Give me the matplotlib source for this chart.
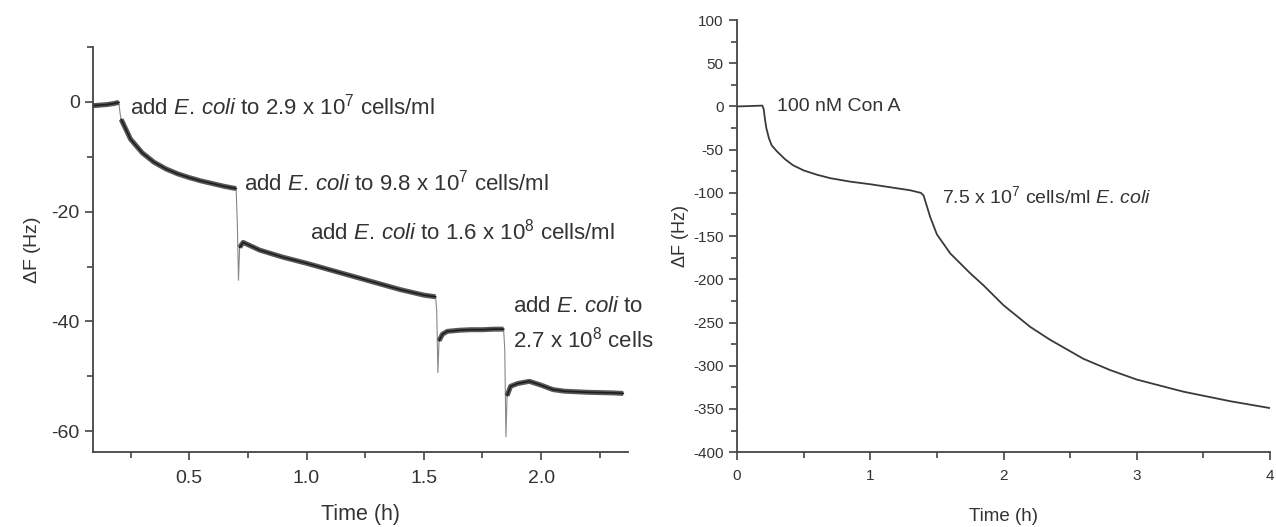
import numpy as np
import matplotlib
matplotlib.use("Agg")
import matplotlib.pyplot as plt
from matplotlib.ticker import MultipleLocator

plt.rcParams['font.family'] = ['Liberation Sans', 'DejaVu Sans']
plt.rcParams['mathtext.fontset'] = 'custom'
plt.rcParams['mathtext.rm'] = 'Liberation Sans'
plt.rcParams['mathtext.it'] = 'Liberation Sans:italic'
plt.rcParams['axes.unicode_minus'] = False

# Left panel: stepwise E. coli additions
seg1_t = [0.09, 0.12, 0.15, 0.18, 0.20]
seg1_f = [-0.7, -0.6, -0.5, -0.3, -0.1]
seg2_t = [0.21, 0.25, 0.30, 0.35, 0.40, 0.45, 0.50, 0.55, 0.60, 0.65, 0.70]
seg2_f = [-3.2, -6.8, -9.3, -11.0, -12.2, -13.1, -13.8, -14.4, -14.9, -15.4, -15.8]
seg3_t = [0.715, 0.73, 0.80, 0.90, 1.00, 1.10, 1.20, 1.30, 1.40, 1.50, 1.55]
seg3_f = [-26.5, -25.6, -27.0, -28.3, -29.4, -30.6, -31.8, -33.0, -34.2, -35.2, -35.5]
seg4_t = [1.565, 1.58, 1.60, 1.65, 1.70, 1.75, 1.80, 1.84]
seg4_f = [-43.5, -42.3, -41.8, -41.6, -41.5, -41.5, -41.4, -41.4]
seg5_t = [1.855, 1.87, 1.90, 1.95, 2.00, 2.05, 2.10, 2.20, 2.30, 2.35]
seg5_f = [-53.5, -51.8, -51.3, -50.9, -51.6, -52.4, -52.7, -52.9, -53.0, -53.1]
# thin transient lines at each addition (drop and recovery)
jump_t = [[0.20, 0.205, 0.21], [0.70, 0.705, 0.71, 0.715],
          [1.55, 1.555, 1.56, 1.565], [1.84, 1.845, 1.85, 1.855]]
jump_f = [[-0.1, -2.0, -3.2], [-15.8, -22.0, -32.5, -26.5],
          [-35.5, -38.0, -49.3, -43.5], [-41.4, -45.0, -61.0, -53.5]]

# Right panel: Con A then E. coli
con_t = [0.0, 0.10, 0.19, 0.20, 0.21, 0.22, 0.24, 0.26, 0.30, 0.36, 0.42, 0.50,
         0.60, 0.70, 0.85, 1.00, 1.15, 1.30, 1.38, 1.40, 1.42, 1.45, 1.50, 1.60,
         1.75, 1.85, 2.00, 2.20, 2.35, 2.60, 2.80, 3.00, 3.35, 3.70, 4.00]
con_f = [0.0, 0.5, 1.0, -3.0, -15.0, -25.0, -37.0, -45.0, -52.0, -61.0, -68.0, -74.0,
         -79.0, -83.0, -87.0, -90.0, -93.5, -97.0, -100.0, -103.0, -113.0, -128.0,
         -148.0, -170.0, -193.0, -207.0, -230.0, -255.0, -270.0, -292.0, -305.0,
         -316.0, -330.0, -341.0, -349.0]

ECOLI = r"$\mathit{E.}\,\mathit{coli}$"
left_notes = [
    (0.248, -0.9, "add " + ECOLI + r" to 2.9 x 10$^7$ cells/ml"),
    (0.735, -14.7, "add " + ECOLI + r" to 9.8 x 10$^7$ cells/ml"),
    (1.017, -23.6, "add " + ECOLI + r" to 1.6 x 10$^8$ cells/ml"),
    (1.88, -37.3, "add " + ECOLI + " to"),
    (1.88, -43.3, r"2.7 x 10$^8$ cells"),
]
right_notes = [
    (0.30, 0.0, "100 nM Con A"),
    (1.54, -103.5, r"7.5 x 10$^7$ cells/ml " + ECOLI),
]

INK = '#333333'
AX = '#444444'


def style_axes(ax, labelsize):
    for s in ['top', 'right']:
        ax.spines[s].set_visible(False)
    for s in ['left', 'bottom']:
        ax.spines[s].set_color(AX)
        ax.spines[s].set_linewidth(1.3)
    ax.tick_params(which='both', direction='out', color=AX, width=1.2,
                   labelcolor=INK, labelsize=labelsize)
    ax.tick_params(which='major', length=6)
    ax.tick_params(which='minor', length=4)


fig = plt.figure(figsize=(12.76, 5.27), dpi=100)

# left panel
ax1 = fig.add_axes([0.0729, 0.142, 0.4192, 0.769])
for t, f in zip(jump_t, jump_f):
    ax1.plot(t, f, color='#888888', lw=0.8)
for t, f in [(seg1_t, seg1_f), (seg2_t, seg2_f), (seg3_t, seg3_f),
             (seg4_t, seg4_f), (seg5_t, seg5_f)]:
    ax1.plot(t, f, color='#3a3a3a', lw=3.6, solid_capstyle='butt', alpha=0.85)
    ax1.plot(t, f, color='#1e1e1e', lw=1.2)
ax1.set_xlim(0.09, 2.37)
ax1.set_ylim(-63.8, 10)
ax1.xaxis.set_major_locator(MultipleLocator(0.5))
ax1.xaxis.set_minor_locator(MultipleLocator(0.25))
ax1.yaxis.set_major_locator(MultipleLocator(20))
ax1.yaxis.set_minor_locator(MultipleLocator(10))
ax1.set_xticks([0.5, 1.0, 1.5, 2.0])
ax1.set_xticklabels(['0.5', '1.0', '1.5', '2.0'])
style_axes(ax1, 14)
ax1.tick_params(axis='x', pad=7)
ax1.set_xlabel('Time (h)', fontsize=15.5, color=INK, labelpad=12)
ax1.set_ylabel(r'$\Delta$F (Hz)', fontsize=14, color=INK, labelpad=6)
for x, y, s in left_notes:
    ax1.text(x, y, s, fontsize=16, color=INK, va='center', ha='left')

# right panel
ax2 = fig.add_axes([0.5776, 0.142, 0.4177, 0.820])
ax2.plot(con_t, con_f, color='#3a3a3a', lw=1.3)
ax2.set_xlim(0, 4)
ax2.set_ylim(-400, 100)
ax2.xaxis.set_major_locator(MultipleLocator(1))
ax2.xaxis.set_minor_locator(MultipleLocator(0.5))
ax2.yaxis.set_major_locator(MultipleLocator(50))
ax2.yaxis.set_minor_locator(MultipleLocator(25))
style_axes(ax2, 11)
ax2.tick_params(axis='x', pad=6)
ax2.set_xlabel('Time (h)', fontsize=13.5, color=INK, labelpad=18)
ax2.set_ylabel(r'$\Delta$F (Hz)', fontsize=13, color=INK, labelpad=2)
for x, y, s in right_notes:
    ax2.text(x, y, s, fontsize=14, color=INK, va='center', ha='left')

fig.savefig('out.png', dpi=100, facecolor='white')
